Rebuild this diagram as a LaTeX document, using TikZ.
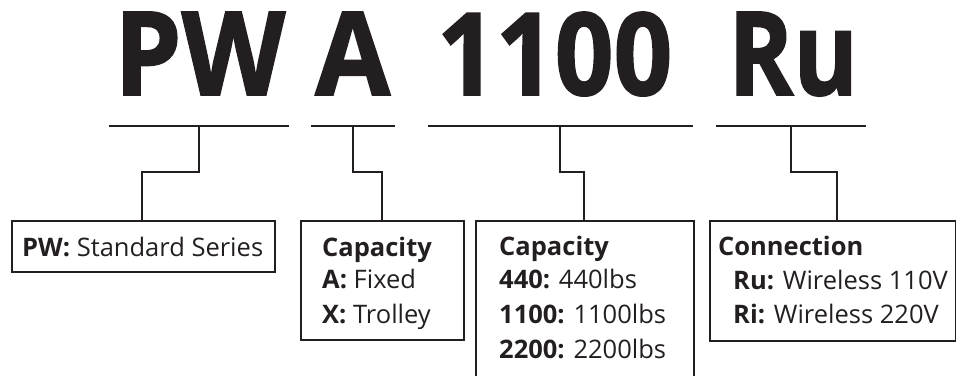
\documentclass[tikz,border=0pt]{standalone}
\usepackage{fontspec}
\setmainfont{Open Sans}
\newfontfamily\titlefont[BoldFeatures={FakeBold=1.5}]{Open Sans}
\definecolor{ink}{HTML}{231F20}
\begin{document}
\begin{tikzpicture}[x=1pt,y=-1pt,
  box/.style={draw=ink, line width=2pt, rectangle, inner sep=0pt, anchor=north west},
  lbl/.style={anchor=base west, inner sep=0pt, text=ink, font=\fontsize{25.5}{30}\selectfont},
  ttl/.style={anchor=base west, inner sep=0pt, text=ink},
  link/.style={draw=ink, line width=2pt}]
\clip (0,0) rectangle (956,375);
% title
\node[ttl] (w1) at (114,95) {\resizebox{171pt}{83pt}{\titlefont\bfseries PW}};
\node[ttl] (w2) at (315,95) {\resizebox{75pt}{83pt}{\titlefont\bfseries A}};
\node[ttl] (w3) at (437,95) {\resizebox{235pt}{83pt}{\titlefont\bfseries 1100}};
\node[ttl] (w4) at (728,95) {\resizebox{130pt}{83pt}{\titlefont\bfseries Ru}};
% underlines
\coordinate (u1a) at (109,126); \coordinate (u1b) at (289,126);
\coordinate (u2a) at (311,126); \coordinate (u2b) at (395,126);
\coordinate (u3a) at (428,126); \coordinate (u3b) at (693,126);
\coordinate (u4a) at (716,126); \coordinate (u4b) at (866,126);
\draw[link] (u1a) -- (u1b);
\draw[link] (u2a) -- (u2b);
\draw[link] (u3a) -- (u3b);
\draw[link] (u4a) -- (u4b);
% boxes
\node[box, minimum width=263pt, minimum height=51pt] (b1) at (11,220) {};
\node[box, minimum width=163pt, minimum height=119pt] (b2) at (300,220) {};
\node[box, minimum width=218pt, minimum height=200pt] (b3) at (475,220) {};
\node[box, minimum width=246pt, minimum height=120pt] (b4) at (709,220) {};
% connectors
\coordinate (s1) at (199,126); \coordinate (k1) at (142,172);
\coordinate (s2) at (353,126); \coordinate (k2) at (382,172);
\coordinate (s3) at (560,126); \coordinate (k3) at (584,172);
\coordinate (s4) at (791,126); \coordinate (k4) at (837,172);
\draw[link] (s1) |- (k1) -- (k1 |- b1.north);
\draw[link] (s2) |- (k2) -- (k2 |- b2.north);
\draw[link] (s3) |- (k3) -- (k3 |- b3.north);
\draw[link] (s4) |- (k4) -- (k4 |- b4.north);
% texts
\node[lbl] (t1) at (22,256) {\textbf{PW:} Standard Series};
\node[lbl] (t2a) at (322,256) {\textbf{Capacity}};
\node[lbl] (t2b) at (322,288) {\textbf{A:} Fixed};
\node[lbl] (t2c) at (322,323) {\textbf{X:} Trolley};
\node[lbl] (t3a) at (499,255) {\textbf{Capacity}};
\node[lbl] (t3b) at (499,288) {\textbf{440:} 440lbs};
\node[lbl] (t3c) at (499,323) {\textbf{1100:} 1100lbs};
\node[lbl] (t3d) at (499,358) {\textbf{2200:} 2200lbs};
\node[lbl] (t4a) at (718,255) {\textbf{Connection}};
\node[lbl] (t4b) at (733,289) {\textbf{Ru:} Wireless 110V};
\node[lbl] (t4c) at (733,323) {\textbf{Ri:} Wireless 220V};
\end{tikzpicture}
\end{document}
